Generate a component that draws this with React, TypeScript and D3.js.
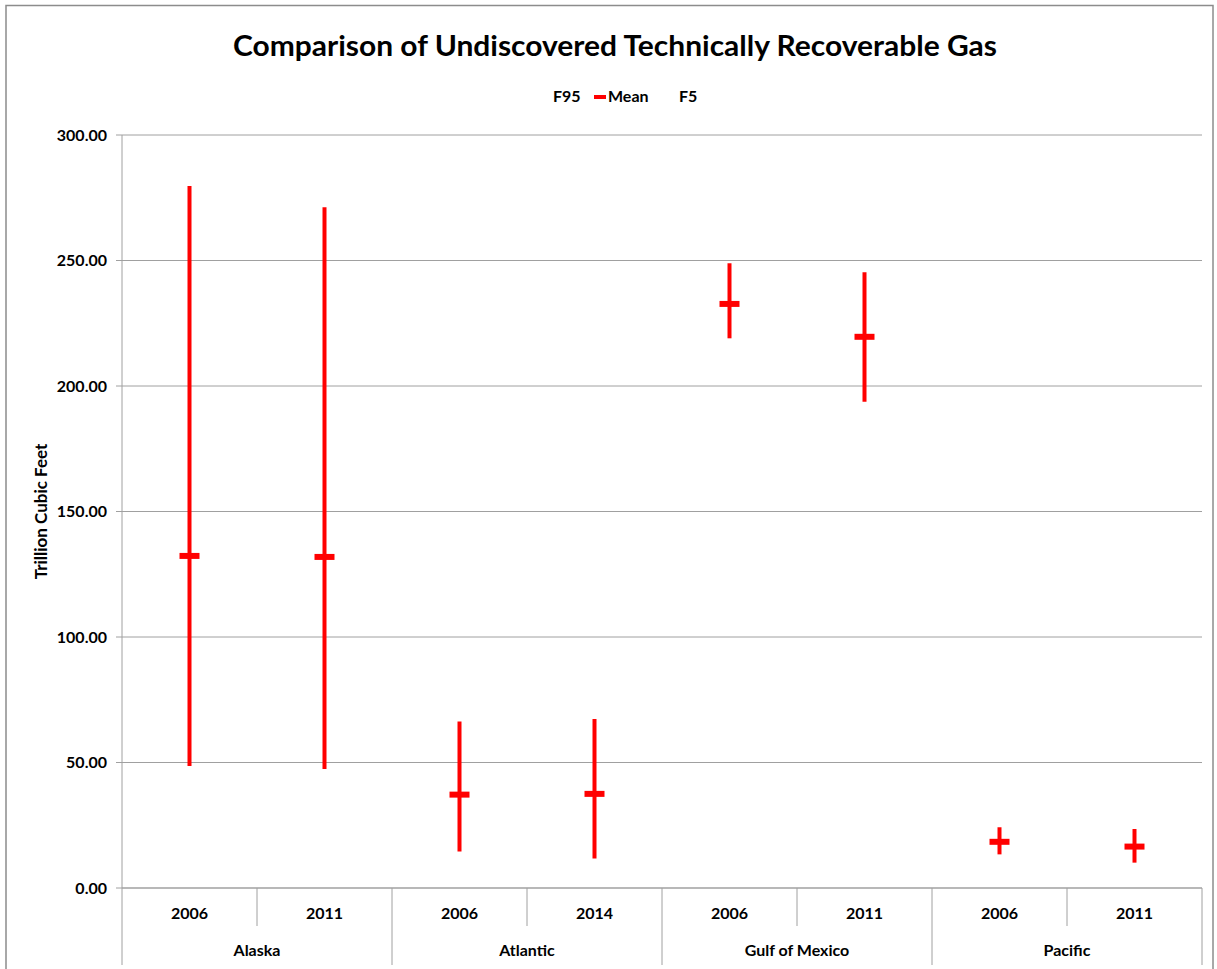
import React from "react";
import * as d3 from "d3";

const regions = ["Alaska", "Atlantic", "Gulf of Mexico", "Pacific"];
const years = ["2006", "2011", "2006", "2014", "2006", "2011", "2006", "2011"];
const regionOf = [0, 0, 1, 1, 2, 2, 3, 3];
const f5 = [279.7, 271.2, 66.3, 67.3, 248.9, 245.3, 24.2, 23.5];
const meanVals = [132.3, 131.9, 37.2, 37.5, 232.7, 219.6, 18.4, 16.5];
const f95 = [48.6, 47.4, 14.5, 11.8, 219.0, 193.7, 13.4, 10.1];
const yTicks = [0, 50, 100, 150, 200, 250, 300];

const W = 1217;
const H = 969;
const left = 122;
const right = 1202;
const top = 135;
const bottom = 888;
const FONT = "Lato, 'Open Sans', sans-serif";

export default function App() {
  const idx = years.map((_, i) => i);
  const x = d3.scaleBand<number>().domain(idx).range([left, right]).padding(0);
  const y = d3.scaleLinear().domain([0, 300]).range([bottom, top]);
  const bw = x.bandwidth();
  const grid = "#a0a0a0";
  const red = "#ff0000";

  const regionStarts = regions.map((_, r) => {
    const members = idx.filter((i) => regionOf[i] === r);
    const x0 = x(members[0]) as number;
    const x1 = (x(members[members.length - 1]) as number) + bw;
    return { x0, x1 };
  });

  return (
    <svg
      width={W}
      height={H}
      style={{ position: "absolute", left: 0, top: 0, background: "#fff" }}
      fontFamily={FONT}
    >
      <rect x={6} y={5.5} width={1207} height={980} fill="#fff" stroke="#8c8c8c" strokeWidth={1.5} />
      <text
        x={615}
        y={56}
        textAnchor="middle"
        fontSize={29}
        fontWeight="bold"
        textLength={764}
        lengthAdjust="spacingAndGlyphs"
        fill="#000"
      >
        Comparison of Undiscovered Technically Recoverable Gas
      </text>

      {/* legend */}
      <g fontSize={16} fontWeight="bold" fill="#000">
        <text x={553} y={102}>F95</text>
        <line x1={594} x2={606} y1={97} y2={97} stroke={red} strokeWidth={4} />
        <text x={608} y={102}>Mean</text>
        <text x={679} y={102}>F5</text>
      </g>

      {/* gridlines */}
      {yTicks.filter((t) => t > 0).map((t) => (
        <line key={t} x1={left} x2={right} y1={y(t)} y2={y(t)} stroke={grid} strokeWidth={1} />
      ))}
      {/* y axis */}
      <line x1={left} x2={left} y1={top} y2={965} stroke={grid} strokeWidth={1} />
      {yTicks.map((t) => (
        <g key={"t" + t}>
          <line x1={116} x2={left} y1={y(t)} y2={y(t)} stroke={grid} strokeWidth={1} />
          <text x={107} y={y(t) + 5.5} textAnchor="end" fontSize={16} fontWeight="bold" fill="#000">
            {t.toFixed(2)}
          </text>
        </g>
      ))}
      <text
        transform={`translate(47,${(top + bottom) / 2}) rotate(-90)`}
        textAnchor="middle"
        fontSize={17}
        fontWeight="bold"
        fill="#000"
      >
        Trillion Cubic Feet
      </text>

      {/* category axis */}
      <line x1={left} x2={right} y1={bottom} y2={bottom} stroke={grid} strokeWidth={1.5} />
      {idx.map((i) => (
        <g key={"c" + i}>
          {i % 2 === 1 && (
            <line
              x1={x(i) as number}
              x2={x(i) as number}
              y1={bottom}
              y2={926}
              stroke={grid}
              strokeWidth={1}
            />
          )}
          <text
            x={(x(i) as number) + bw / 2}
            y={919}
            textAnchor="middle"
            fontSize={16}
            fontWeight="bold"
            fill="#000"
          >
            {years[i]}
          </text>
        </g>
      ))}
      {regionStarts.map((r, k) => (
        <g key={"r" + k}>
          <line x1={r.x1} x2={r.x1} y1={bottom} y2={965} stroke={grid} strokeWidth={1} />
          <text
            x={(r.x0 + r.x1) / 2}
            y={956}
            textAnchor="middle"
            fontSize={16}
            fontWeight="bold"
            fill="#000"
          >
            {regions[k]}
          </text>
        </g>
      ))}

      {/* error bars */}
      {idx.map((i) => {
        const cx = (x(i) as number) + bw / 2;
        return (
          <g key={"b" + i}>
            <line x1={cx} x2={cx} y1={y(f5[i])} y2={y(f95[i])} stroke={red} strokeWidth={4} />
            <line x1={cx - 10} x2={cx + 10} y1={y(meanVals[i])} y2={y(meanVals[i])} stroke={red} strokeWidth={6} />
          </g>
        );
      })}
    </svg>
  );
}
